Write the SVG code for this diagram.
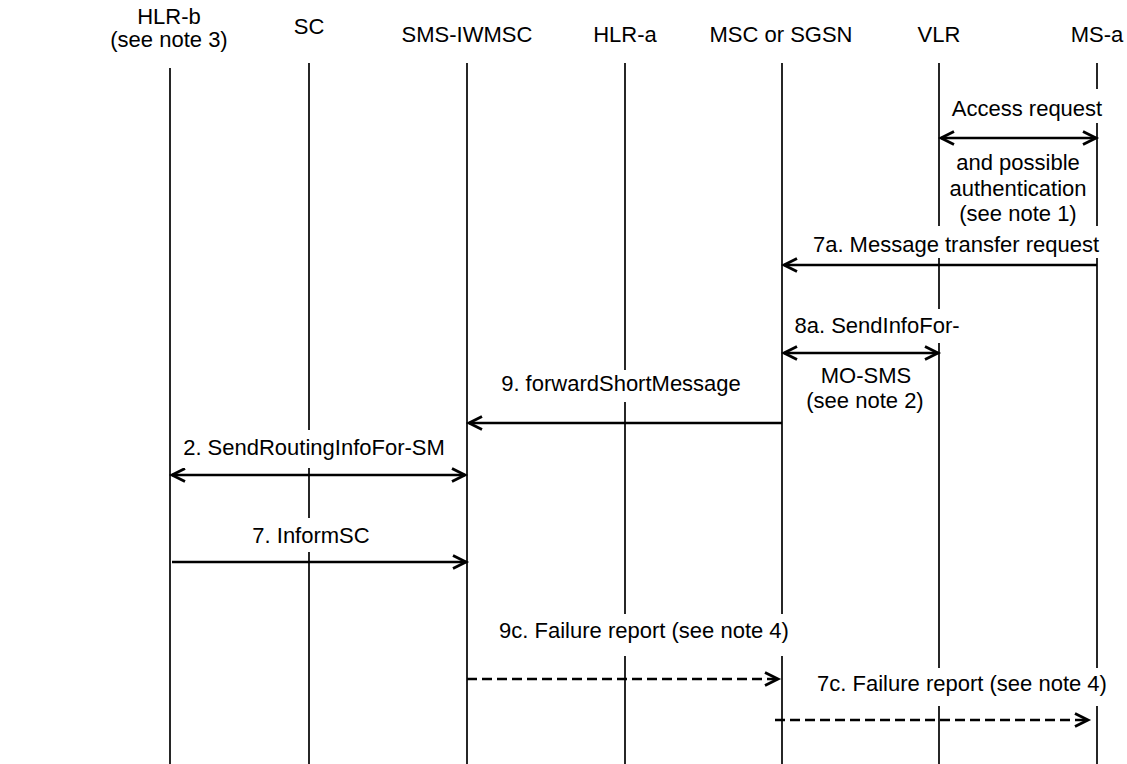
<svg xmlns="http://www.w3.org/2000/svg" width="1127" height="764" viewBox="0 0 1127 764">
<style>
  text { font-family: "Liberation Sans", Arial, sans-serif; font-size: 22px; fill: #000; text-anchor: middle; }
  .life { stroke: #000; stroke-width: 1.7; fill: none; }
  .msg { stroke: #000; stroke-width: 2.6; fill: none; }
  .dash { stroke-dasharray: 10 5; }
  .bg { fill: #fff; stroke: none; }
</style>
<defs>
  <marker id="ah" markerUnits="userSpaceOnUse" markerWidth="20" markerHeight="20" viewBox="-16 -10 20 20" refX="0" refY="0" orient="auto-start-reverse">
    <path d="M -13 -6.5 L 0 0 L -13 6.5" fill="none" stroke="#000" stroke-width="2.8" stroke-dasharray="none"/>
  </marker>
</defs>
<rect x="0" y="0" width="1127" height="764" fill="#fff"/>

<g id="lifelines">
  <line class="life" x1="170" y1="68" x2="170" y2="764"/>
  <line class="life" x1="309" y1="63" x2="309" y2="764"/>
  <line class="life" x1="467" y1="63" x2="467" y2="764"/>
  <line class="life" x1="625" y1="63" x2="625" y2="764"/>
  <line class="life" x1="782" y1="63" x2="782" y2="764"/>
  <line class="life" x1="939" y1="63" x2="939" y2="764"/>
  <line class="life" x1="1097" y1="63" x2="1097" y2="764"/>
</g>

<g id="hlr-b"><text x="169" y="24">HLR-b</text><text x="169" y="47">(see note 3)</text></g>
<g id="sc"><text x="309" y="34">SC</text></g>
<g id="sms-iwmsc"><text x="467" y="42">SMS-IWMSC</text></g>
<g id="hlr-a"><text x="625" y="42">HLR-a</text></g>
<g id="msc"><text x="781" y="42">MSC or SGSN</text></g>
<g id="vlr"><text x="939" y="42">VLR</text></g>
<g id="ms-a"><text x="1097" y="42">MS-a</text></g>

<g id="connectors">
  <line class="msg" x1="941" y1="138" x2="1096" y2="138" marker-start="url(#ah)" marker-end="url(#ah)"/>
  <line class="msg" x1="1097" y1="265" x2="784" y2="265" marker-end="url(#ah)"/>
  <line class="msg" x1="784" y1="353" x2="938" y2="353" marker-start="url(#ah)" marker-end="url(#ah)"/>
  <line class="msg" x1="782" y1="423" x2="469" y2="423" marker-end="url(#ah)"/>
  <line class="msg" x1="172" y1="475" x2="465" y2="475" marker-start="url(#ah)" marker-end="url(#ah)"/>
  <line class="msg" x1="172" y1="562" x2="466" y2="562" marker-end="url(#ah)"/>
  <line class="msg dash" x1="467" y1="679" x2="778" y2="679" marker-end="url(#ah)"/>
  <line class="msg dash" x1="775" y1="720" x2="1088" y2="720" marker-end="url(#ah)"/>
</g>

<g id="labels">
  <rect class="bg" x="948" y="89" width="158" height="34"/>
  <text x="1027" y="116">Access request</text>
  <text x="1018" y="170">and possible</text>
  <text x="1018" y="196">authentication</text>
  <text x="1018" y="221">(see note 1)</text>

  <rect class="bg" x="805" y="226" width="302" height="32"/>
  <text x="956" y="252">7a. Message transfer request</text>

  <rect class="bg" x="792" y="309" width="171" height="34"/>
  <text x="877" y="333">8a. SendInfoFor-</text>
  <text x="866" y="383">MO-SMS</text>
  <text x="865" y="408">(see note 2)</text>

  <rect class="bg" x="495" y="370" width="253" height="32"/>
  <text x="621" y="391">9. forwardShortMessage</text>

  <rect class="bg" x="178" y="430" width="272" height="38"/>
  <text x="314" y="455">2. SendRoutingInfoFor-SM</text>

  <rect class="bg" x="245" y="518" width="132" height="34"/>
  <text x="311" y="543">7. InformSC</text>

  <rect class="bg" x="490" y="614" width="310" height="42"/>
  <text x="644" y="638">9c. Failure report (see note 4)</text>

  <rect class="bg" x="808" y="668" width="308" height="38"/>
  <text x="962" y="691">7c. Failure report (see note 4)</text>
</g>
</svg>
